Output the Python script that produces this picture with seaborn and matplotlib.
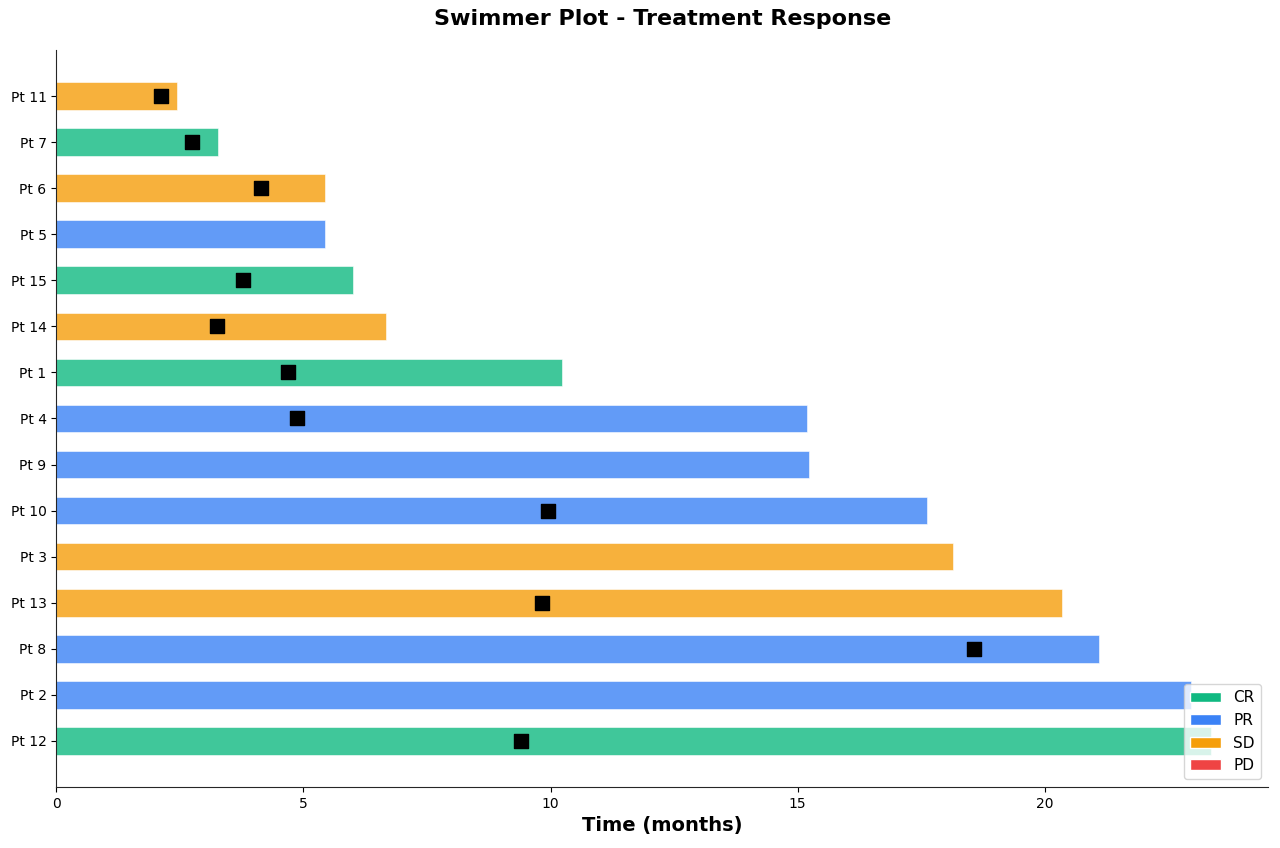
import pandas as pd
import matplotlib.pyplot as plt
import seaborn as sns
import numpy as np
from matplotlib.patches import Patch

sns.set_style("ticks")
plt.rcParams['font.family'] = ['DejaVu Sans']
plt.rcParams.update({'text.color': 'black', 'axes.labelcolor': 'black',
                     'xtick.color': 'black', 'ytick.color': 'black'})

# Patients from top to bottom (shortest to longest follow-up)
patients = ["Pt 11", "Pt 7", "Pt 6", "Pt 5", "Pt 15", "Pt 14", "Pt 1", "Pt 4",
            "Pt 9", "Pt 10", "Pt 3", "Pt 13", "Pt 8", "Pt 2", "Pt 12"]
durations = [2.45, 3.28, 5.43, 5.43, 6.01, 6.68, 10.24, 15.20,
             15.24, 17.61, 18.14, 20.34, 21.09, 22.96, 23.36]
responses = ["SD", "CR", "SD", "PR", "CR", "SD", "CR", "PR",
             "PR", "PR", "SD", "SD", "PR", "PR", "CR"]
# time of event marker (NaN = no marker)
events = [2.11, 2.75, 4.15, np.nan, 3.77, 3.26, 4.68, 4.88,
          np.nan, 9.94, np.nan, 9.82, 18.56, np.nan, 9.41]

colors = {"CR": "#10b981", "PR": "#3b82f6", "SD": "#f59e0b", "PD": "#ef4444"}

df = pd.DataFrame({"patient": patients, "duration": durations,
                   "response": responses, "event": events})

fig, ax = plt.subplots(figsize=(12.8, 8.48), dpi=100)
fig.subplots_adjust(left=0.044, right=0.991, top=0.941, bottom=0.072)

sns.barplot(data=df, x="duration", y="patient", hue="response", order=patients,
            palette=colors, dodge=False, width=0.6, alpha=0.8, saturation=1,
            edgecolor="white", linewidth=0.5, legend=False, ax=ax)

ev = df.dropna(subset=["event"])
ax.scatter(ev["event"], [patients.index(p) for p in ev["patient"]],
           marker="s", s=100, color="black", zorder=5)

ax.set_ylim(len(patients), -1)
ax.set_xlim(0, max(durations) * 1.05)
ax.set_title("Swimmer Plot - Treatment Response", fontsize=16, fontweight="bold", pad=18)
ax.set_xlabel("Time (months)", fontsize=14, fontweight="bold")
ax.set_ylabel("")
ax.tick_params(labelsize=10)
sns.despine(ax=ax)

handles = [Patch(facecolor=colors[k], label=k) for k in ["CR", "PR", "SD", "PD"]]
ax.legend(handles=handles, loc="lower right", fontsize=11, framealpha=0.8)

fig.savefig("out.png", dpi=100)
